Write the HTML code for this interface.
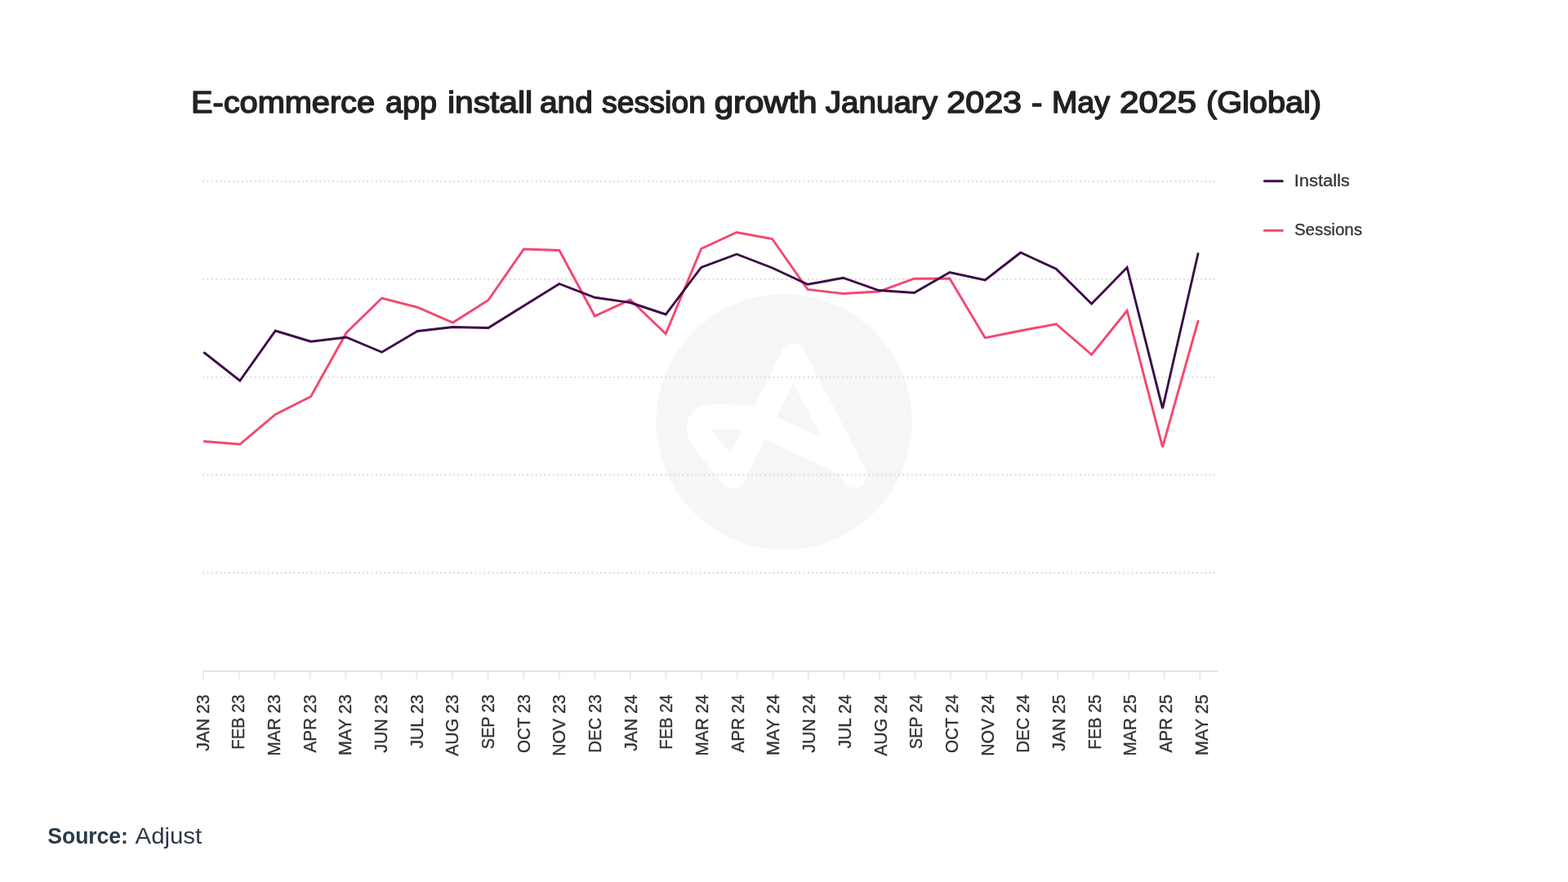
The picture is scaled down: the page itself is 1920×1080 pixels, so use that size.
<!DOCTYPE html>
<html lang="en"><head><meta charset="utf-8"><title>E-commerce app install and session growth</title>
<style>
html,body{margin:0;padding:0;background:#fff;}
body{width:1920px;height:1080px;overflow:hidden;font-family:"Liberation Sans",sans-serif;}
svg{display:block;}
text{font-family:"Liberation Sans",sans-serif;}
.title{font-size:36.7px;font-weight:normal;fill:#222;stroke:#222;stroke-width:1.5;stroke-linejoin:round;}
.grid line{stroke:#e0e0e0;stroke-width:2.3;stroke-dasharray:2 3.29;}
.axis line{stroke:#eaeaf2;stroke-width:2.2;}
.xl text{font-size:22px;fill:#333;stroke:#333;stroke-width:0.35;}
.leg text{font-size:20px;fill:#333;stroke:#333;stroke-width:0.3;}
.src{font-size:27px;fill:#2b3a48;}
</style></head><body>
<svg width="1920" height="1080" viewBox="0 0 1920 1080">
<rect width="1920" height="1080" fill="#fff"/>
<text class="title" y="137.5"><tspan x="234.0" textLength="225.06" lengthAdjust="spacingAndGlyphs">E-commerce</tspan> <tspan x="472.0" textLength="63.05" lengthAdjust="spacingAndGlyphs">app</tspan> <tspan x="548.0" textLength="104.10" lengthAdjust="spacingAndGlyphs">install</tspan> <tspan x="661.0" textLength="64.70" lengthAdjust="spacingAndGlyphs">and</tspan> <tspan x="737.0" textLength="127.02" lengthAdjust="spacingAndGlyphs">session</tspan> <tspan x="874.8" textLength="125.67" lengthAdjust="spacingAndGlyphs">growth</tspan> <tspan x="1010.8" textLength="137.21" lengthAdjust="spacingAndGlyphs">January</tspan> <tspan x="1159.2" textLength="91.89" lengthAdjust="spacingAndGlyphs">2023</tspan> <tspan x="1263.0" textLength="13.33" lengthAdjust="spacingAndGlyphs">-</tspan> <tspan x="1288.0" textLength="71.05" lengthAdjust="spacingAndGlyphs">May</tspan> <tspan x="1371.0" textLength="94.09" lengthAdjust="spacingAndGlyphs">2025</tspan> <tspan x="1477.0" textLength="141.07" lengthAdjust="spacingAndGlyphs">(Global)</tspan></text>
<g class="axis"><line style="stroke:#e3e3ee" x1="247.9" x2="1491.4" y1="821.8" y2="821.8"/><line x1="249.00" x2="249.00" y1="821.8" y2="831.8"/><line x1="292.58" x2="292.58" y1="821.8" y2="831.8"/><line x1="336.16" x2="336.16" y1="821.8" y2="831.8"/><line x1="379.74" x2="379.74" y1="821.8" y2="831.8"/><line x1="423.32" x2="423.32" y1="821.8" y2="831.8"/><line x1="466.90" x2="466.90" y1="821.8" y2="831.8"/><line x1="510.48" x2="510.48" y1="821.8" y2="831.8"/><line x1="554.06" x2="554.06" y1="821.8" y2="831.8"/><line x1="597.64" x2="597.64" y1="821.8" y2="831.8"/><line x1="641.22" x2="641.22" y1="821.8" y2="831.8"/><line x1="684.80" x2="684.80" y1="821.8" y2="831.8"/><line x1="728.38" x2="728.38" y1="821.8" y2="831.8"/><line x1="771.96" x2="771.96" y1="821.8" y2="831.8"/><line x1="815.54" x2="815.54" y1="821.8" y2="831.8"/><line x1="859.12" x2="859.12" y1="821.8" y2="831.8"/><line x1="902.70" x2="902.70" y1="821.8" y2="831.8"/><line x1="946.28" x2="946.28" y1="821.8" y2="831.8"/><line x1="989.86" x2="989.86" y1="821.8" y2="831.8"/><line x1="1033.44" x2="1033.44" y1="821.8" y2="831.8"/><line x1="1077.02" x2="1077.02" y1="821.8" y2="831.8"/><line x1="1120.60" x2="1120.60" y1="821.8" y2="831.8"/><line x1="1164.18" x2="1164.18" y1="821.8" y2="831.8"/><line x1="1207.76" x2="1207.76" y1="821.8" y2="831.8"/><line x1="1251.34" x2="1251.34" y1="821.8" y2="831.8"/><line x1="1294.92" x2="1294.92" y1="821.8" y2="831.8"/><line x1="1338.50" x2="1338.50" y1="821.8" y2="831.8"/><line x1="1382.08" x2="1382.08" y1="821.8" y2="831.8"/><line x1="1425.66" x2="1425.66" y1="821.8" y2="831.8"/><line x1="1469.24" x2="1469.24" y1="821.8" y2="831.8"/></g>
<g class="wm" opacity="1">
<circle cx="960" cy="516.7" r="156.7" fill="#8c8c8c" fill-opacity="0.078"/>
<path d="M1046,582.2 L971.7,435.6 L897,583.3 L858.9,535.4 Q849,512 872.9,510.6 L915.7,511 L1039.1,568.8" fill="none" stroke="#fff" stroke-width="30.5" stroke-linecap="round" stroke-linejoin="round"/>
</g>
<g class="grid"><line x1="248.2" x2="1489" y1="222" y2="222"/><line x1="248.2" x2="1489" y1="342" y2="342"/><line x1="248.2" x2="1489" y1="461.8" y2="461.8"/><line x1="248.2" x2="1489" y1="581.5" y2="581.5"/><line x1="248.2" x2="1489" y1="701.5" y2="701.5"/></g>
<polyline fill="none" stroke="#f4476f" stroke-width="2.9" stroke-linejoin="miter" stroke-miterlimit="3" stroke-linecap="round" points="250.30,540.50 293.75,544.00 337.21,507.50 380.66,485.50 424.11,407.50 467.57,365.00 511.02,376.25 554.48,395.00 597.93,367.50 641.38,305.00 684.84,306.50 728.29,387.00 771.74,367.00 815.20,408.75 858.65,304.50 902.10,284.50 945.56,292.50 989.01,354.50 1032.46,359.50 1075.92,357.00 1119.37,341.25 1162.83,341.00 1206.28,413.75 1249.73,405.00 1293.19,396.75 1336.64,434.25 1380.09,380.50 1423.55,547.40 1467.00,393.25"/>
<polyline fill="none" stroke="#3d0a48" stroke-width="2.9" stroke-linejoin="miter" stroke-miterlimit="3" stroke-linecap="round" points="250.30,432.00 293.75,466.25 337.21,405.00 380.66,418.25 424.11,413.00 467.57,431.25 511.02,405.50 554.48,400.50 597.93,401.50 641.38,374.50 684.84,347.50 728.29,364.25 771.74,370.50 815.20,385.00 858.65,327.50 902.10,311.25 945.56,328.00 989.01,348.25 1032.46,340.25 1075.92,355.50 1119.37,358.50 1162.83,333.60 1206.28,343.00 1249.73,309.25 1293.19,329.25 1336.64,372.00 1380.09,327.50 1423.55,500.20 1467.00,310.75"/>
<g class="leg">
<line x1="1548.3" x2="1570.3" y1="221.8" y2="221.8" stroke="#3d0a48" stroke-width="3" stroke-linecap="round"/>
<text x="1584.8" y="228.1" textLength="68" lengthAdjust="spacingAndGlyphs">Installs</text>
<line x1="1548.3" x2="1570.3" y1="282.3" y2="282.3" stroke="#f4476f" stroke-width="3" stroke-linecap="round"/>
<text x="1584.9" y="287.7" textLength="83" lengthAdjust="spacingAndGlyphs">Sessions</text>
</g>
<g class="xl"><text transform="translate(255.60,919.7) rotate(-90)" textLength="69.3" lengthAdjust="spacingAndGlyphs">JAN 23</text><text transform="translate(299.28,917.7) rotate(-90)" textLength="67.3" lengthAdjust="spacingAndGlyphs">FEB 23</text><text transform="translate(342.96,925.5) rotate(-90)" textLength="75.1" lengthAdjust="spacingAndGlyphs">MAR 23</text><text transform="translate(386.64,921.6) rotate(-90)" textLength="71.2" lengthAdjust="spacingAndGlyphs">APR 23</text><text transform="translate(430.32,924.9) rotate(-90)" textLength="74.5" lengthAdjust="spacingAndGlyphs">MAY 23</text><text transform="translate(474.00,921.8) rotate(-90)" textLength="71.4" lengthAdjust="spacingAndGlyphs">JUN 23</text><text transform="translate(517.68,916.6) rotate(-90)" textLength="66.2" lengthAdjust="spacingAndGlyphs">JUL 23</text><text transform="translate(561.36,925.8) rotate(-90)" textLength="75.4" lengthAdjust="spacingAndGlyphs">AUG 23</text><text transform="translate(605.04,917.3) rotate(-90)" textLength="66.9" lengthAdjust="spacingAndGlyphs">SEP 23</text><text transform="translate(648.72,922.1) rotate(-90)" textLength="71.7" lengthAdjust="spacingAndGlyphs">OCT 23</text><text transform="translate(692.40,925.8) rotate(-90)" textLength="75.4" lengthAdjust="spacingAndGlyphs">NOV 23</text><text transform="translate(736.08,921.8) rotate(-90)" textLength="71.4" lengthAdjust="spacingAndGlyphs">DEC 23</text><text transform="translate(779.76,919.7) rotate(-90)" textLength="69.3" lengthAdjust="spacingAndGlyphs">JAN 24</text><text transform="translate(823.44,917.7) rotate(-90)" textLength="67.3" lengthAdjust="spacingAndGlyphs">FEB 24</text><text transform="translate(867.12,925.5) rotate(-90)" textLength="75.1" lengthAdjust="spacingAndGlyphs">MAR 24</text><text transform="translate(910.80,921.6) rotate(-90)" textLength="71.2" lengthAdjust="spacingAndGlyphs">APR 24</text><text transform="translate(954.48,924.9) rotate(-90)" textLength="74.5" lengthAdjust="spacingAndGlyphs">MAY 24</text><text transform="translate(998.16,921.8) rotate(-90)" textLength="71.4" lengthAdjust="spacingAndGlyphs">JUN 24</text><text transform="translate(1041.84,916.6) rotate(-90)" textLength="66.2" lengthAdjust="spacingAndGlyphs">JUL 24</text><text transform="translate(1085.52,925.8) rotate(-90)" textLength="75.4" lengthAdjust="spacingAndGlyphs">AUG 24</text><text transform="translate(1129.20,917.3) rotate(-90)" textLength="66.9" lengthAdjust="spacingAndGlyphs">SEP 24</text><text transform="translate(1172.88,922.1) rotate(-90)" textLength="71.7" lengthAdjust="spacingAndGlyphs">OCT 24</text><text transform="translate(1216.56,925.8) rotate(-90)" textLength="75.4" lengthAdjust="spacingAndGlyphs">NOV 24</text><text transform="translate(1260.24,921.8) rotate(-90)" textLength="71.4" lengthAdjust="spacingAndGlyphs">DEC 24</text><text transform="translate(1303.92,919.7) rotate(-90)" textLength="69.3" lengthAdjust="spacingAndGlyphs">JAN 25</text><text transform="translate(1347.60,917.7) rotate(-90)" textLength="67.3" lengthAdjust="spacingAndGlyphs">FEB 25</text><text transform="translate(1391.28,925.5) rotate(-90)" textLength="75.1" lengthAdjust="spacingAndGlyphs">MAR 25</text><text transform="translate(1434.96,921.6) rotate(-90)" textLength="71.2" lengthAdjust="spacingAndGlyphs">APR 25</text><text transform="translate(1478.64,924.9) rotate(-90)" textLength="74.5" lengthAdjust="spacingAndGlyphs">MAY 25</text></g>
<text class="src" y="1033"><tspan x="58.3" font-weight="bold" textLength="98.6" lengthAdjust="spacingAndGlyphs">Source:</tspan> <tspan x="165.6" textLength="81.6" lengthAdjust="spacingAndGlyphs">Adjust</tspan></text>
</svg>
</body></html>
